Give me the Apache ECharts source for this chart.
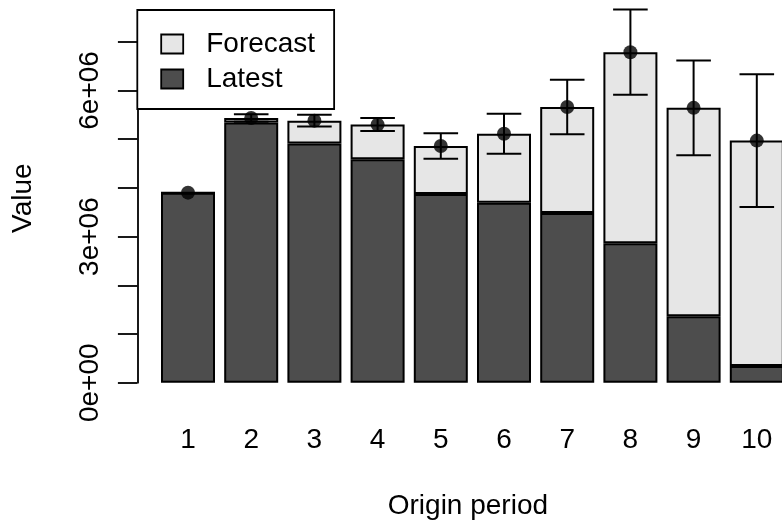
<!DOCTYPE html>
<html>
<head>
<meta charset="utf-8">
<script src="https://cdn.jsdelivr.net/npm/echarts@6/dist/echarts.min.js"></script>
<style>html,body{margin:0;padding:0;background:#fff}#c{width:782px;height:524px}</style>
</head>
<body>
<div id="c"></div>
<script>
// Data (GenIns-like Mack chain ladder summary)
var originPeriods = ['1','2','3','4','5','6','7','8','9','10'];
var latest   = [3901463, 5339085, 4909315, 4588268, 3873311, 3691712, 3483130, 2864498, 1363294, 344014];
var forecast = [0, 94634, 469511, 709638, 984889, 1419459, 2177641, 3920301, 4278972, 4625811];
var mackSE   = [0, 75535, 121699, 133549, 261406, 411010, 558317, 875328, 971258, 1363155];
var yTickValues = [0, 3000000, 6000000];
var yTickLabels = ['0e+00', '3e+06', '6e+06'];

var FONT = "'Liberation Sans', Arial, sans-serif";
var FS = 28;

var ultimate = latest.map(function (v, i) { return v + forecast[i]; });
var errData = ultimate.map(function (u, i) { return [i, u - mackSE[i], u + mackSE[i], mackSE[i]]; });
var pointData = ultimate.map(function (u, i) { return [i, u]; });

var chart = echarts.init(document.getElementById('c'), null, {renderer: 'canvas'});
chart.setOption({
  backgroundColor: '#ffffff',
  animation: false,
  textStyle: {fontFamily: FONT},
  grid: {left: 156.4, width: 632, top: 41.7, bottom: 141.3, outerBoundsMode: 'none', containLabel: false},
  legend: {
    data: ['Forecast', 'Latest'],
    orient: 'vertical',
    left: 137.3, top: 10,
    backgroundColor: '#ffffff',
    borderColor: '#000000', borderWidth: 1.8,
    padding: [20, 19, 16, 23],
    itemGap: 7,
    itemWidth: 22, itemHeight: 19,
    icon: 'rect',
    itemStyle: {borderColor: '#000000', borderWidth: 1.8},
    textStyle: {fontSize: FS, color: '#000', fontFamily: FONT, lineHeight: 28, padding: [0, 0, 0, 18]},
    selectedMode: false
  },
  xAxis: {
    type: 'category',
    data: originPeriods,
    axisLine: {show: false},
    axisTick: {show: false},
    axisLabel: {fontSize: FS, color: '#000', margin: 44, fontFamily: FONT, interval: 0},
    name: 'Origin period',
    nameLocation: 'middle',
    nameGap: 110,
    nameTextStyle: {fontSize: FS, color: '#000', fontFamily: FONT, padding: [0, 9, 0, 0]},
    splitLine: {show: false}
  },
  yAxis: {
    type: 'value',
    min: 0, max: 7000000, interval: 1000000,
    offset: 19,
    axisLine: {show: true, lineStyle: {color: '#000', width: 1.8}},
    axisTick: {show: true, length: 19.5, lineStyle: {color: '#000', width: 1.8}},
    axisLabel: {
      fontSize: FS, color: '#000', rotate: 90, margin: 33, fontFamily: FONT,
      formatter: function (v) {
        var k = yTickValues.indexOf(v);
        return k >= 0 ? yTickLabels[k] : '';
      }
    },
    splitLine: {show: false},
    name: 'Value',
    nameLocation: 'middle',
    nameGap: 100,
    nameTextStyle: {fontSize: FS, color: '#000', fontFamily: FONT, padding: [0, 0, 0, 28]}
  },
  series: [
    {
      name: 'Latest', type: 'bar', stack: 'tot', data: latest, barWidth: 54,
      itemStyle: {color: '#4d4d4d', borderColor: '#000', borderWidth: 2}
    },
    {
      name: 'Forecast', type: 'bar', stack: 'tot', data: forecast, barWidth: 54,
      itemStyle: {color: '#e6e6e6', borderColor: '#000', borderWidth: 2}
    },
    {
      name: 'err', type: 'custom', clip: false, z: 5,
      data: errData,
      renderItem: function (params, api) {
        if (api.value(3) <= 0) return {type: 'group', children: []};
        var lo = api.coord([api.value(0), api.value(1)]);
        var hi = api.coord([api.value(0), api.value(2)]);
        var hw = 17.3;
        var st = {stroke: '#000', lineWidth: 2};
        return {type: 'group', children: [
          {type: 'line', shape: {x1: lo[0], y1: lo[1], x2: hi[0], y2: hi[1]}, style: st},
          {type: 'line', shape: {x1: lo[0] - hw, y1: lo[1], x2: lo[0] + hw, y2: lo[1]}, style: st},
          {type: 'line', shape: {x1: hi[0] - hw, y1: hi[1], x2: hi[0] + hw, y2: hi[1]}, style: st}
        ]};
      }
    },
    {
      name: 'pt', type: 'scatter', data: pointData, symbol: 'circle', symbolSize: 14, z: 6,
      itemStyle: {color: '#000'}, clip: false
    }
  ]
});
</script>
</body>
</html>
